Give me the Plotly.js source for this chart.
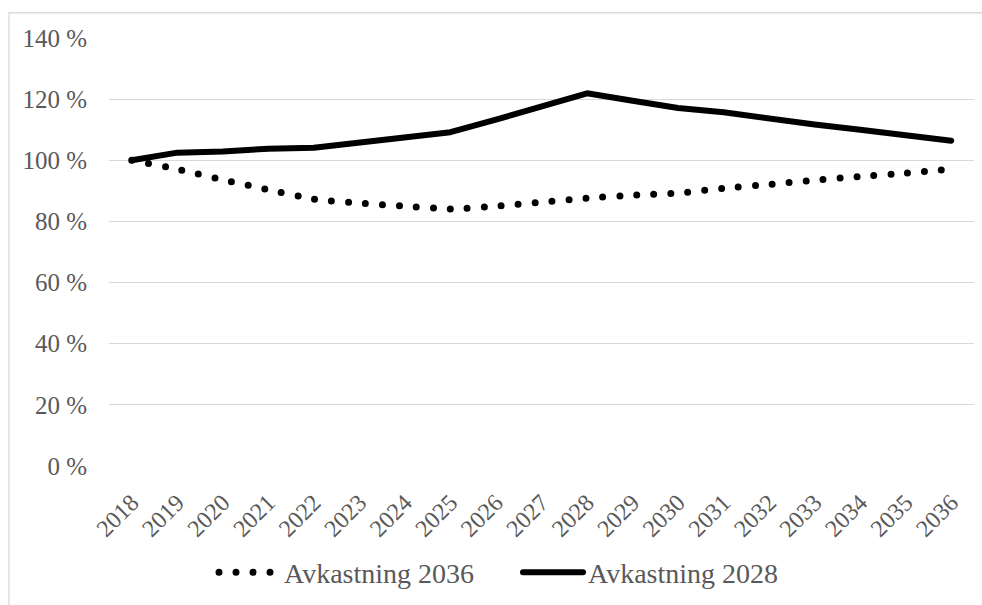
<!DOCTYPE html>
<html>
<head>
<meta charset="utf-8">
<script src="https://cdn.plot.ly/plotly-3.0.1.min.js"></script>
<style>
html, body { margin: 0; padding: 0; background: #fff; }
#chart { width: 982px; height: 605px; }
path.js-line { stroke-linecap: round !important; stroke-linejoin: round !important; }
</style>
</head>
<body>
<div id="chart"></div>
<script>
const years = ['2018','2019','2020','2021','2022','2023','2024','2025','2026','2027','2028','2029','2030','2031','2032','2033','2034','2035','2036'];
const avk2036 = [100, 97.1, 93.6, 90.4, 87.3, 86.0, 85.0, 84.1, 85.0, 86.3, 87.6, 88.6, 89.3, 90.8, 92.1, 93.5, 94.7, 95.8, 97.1];
const avk2028 = [100, 102.5, 102.9, 103.8, 104.1, 105.9, 107.6, 109.2, 113.3, 117.8, 121.9, 119.5, 117.1, 115.7, 113.6, 111.7, 110.0, 108.1, 106.4];
const seriesNames = ['Avkastning 2036', 'Avkastning 2028'];
const yTicks = [0, 20, 40, 60, 80, 100, 120, 140];

const font = 'Liberation Serif, Times New Roman, serif';
const grey = '#595959';

const traces = [
  {
    x: years, y: avk2036, name: seriesNames[0], type: 'scatter', mode: 'lines',
    line: { color: '#000000', width: 7, dash: '0px,17px', shape: 'spline', smoothing: 0.6 }
  },
  {
    x: years, y: avk2028, name: seriesNames[1], type: 'scatter', mode: 'lines',
    line: { color: '#000000', width: 6 }
  }
];

const layout = {
  width: 982, height: 605,
  margin: { l: 109, r: 8, t: 38, b: 135 },
  paper_bgcolor: '#ffffff', plot_bgcolor: '#ffffff',
  font: { family: font, size: 24, color: grey },
  showlegend: true,
  legend: {
    orientation: 'h', x: (214 - 109) / 865, xanchor: 'left', y: -0.249, yanchor: 'middle',
    font: { family: font, size: 28, color: grey }, itemwidth: 60, traceorder: 'normal',
    entrywidth: 229, entrywidthmode: 'pixels'
  },
  xaxis: {
    type: 'category', range: [-0.5, 18.5], tickangle: -45,
    showgrid: false, zeroline: false, showline: false,
    ticks: 'outside', ticklen: 12, tickcolor: 'rgba(0,0,0,0)',
    tickfont: { family: font, size: 24, color: grey }
  },
  yaxis: {
    range: [0, 140], tickvals: yTicks, ticktext: yTicks.map(v => v + ' %'),
    showgrid: true, gridcolor: '#d9d9d9', gridwidth: 1,
    zeroline: false, showline: false,
    ticks: 'outside', ticklen: 16, tickcolor: 'rgba(0,0,0,0)',
    tickfont: { family: font, size: 25, color: grey }
  },
  shapes: [
    { type: 'rect', xref: 'paper', yref: 'paper', x0: (9 - 109) / 865, x1: 1.2, y0: -0.6, y1: (470 - 12.5) / 432,
      line: { color: '#d9d9d9', width: 1.3 }, fillcolor: 'rgba(0,0,0,0)', layer: 'below' }
  ]
};

Plotly.newPlot('chart', traces, layout, { displayModeBar: false, staticPlot: true });
</script>
</body>
</html>
